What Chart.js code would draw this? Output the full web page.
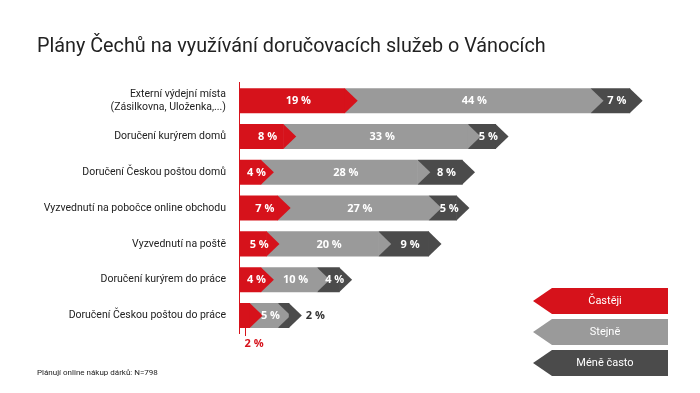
<!DOCTYPE html>
<html>
<head>
<meta charset="utf-8">
<script src="https://cdn.jsdelivr.net/npm/chart.js@4"></script>
<style>
  html, body { margin: 0; padding: 0; background: #fff; }
  #wrap { width: 700px; height: 393px; }
</style>
</head>
<body>
<div id="wrap"><canvas id="graf"></canvas></div>
<script>
var kategorie = [
    ["Externí výdejní místa", "(Zásilkovna, Uloženka,...)"],
    "Doručení kurýrem domů",
    "Doručení Českou poštou domů",
    "Vyzvednutí na pobočce online obchodu",
    "Vyzvednutí na poště",
    "Doručení kurýrem do práce",
    "Doručení Českou poštou do práce"
];
var nazvyRad = ["Častěji", "Stejně", "Méně často"];
var casteji = [19, 8, 4, 7, 5, 4, 2];
var stejne = [44, 33, 28, 27, 20, 10, 5];
var meneCasto = [7, 5, 8, 5, 9, 4, 2];

var CERVENA = "#d6121b";
var SEDA = "#9a9a9a";
var TMAVA = "#4b4b4b";
var barvy = [CERVENA, SEDA, TMAVA];

// hroty sipek + popisky
var sipky = {
    id: "sipky",
    afterDatasetsDraw: function (chart) {
        var ctx = chart.ctx;
        ctx.save();
        chart.data.datasets.forEach(function (ds, i) {
            chart.getDatasetMeta(i).data.forEach(function (bar) {
                var p = bar.getProps(["x", "y", "base", "height"], true);
                var h = p.height;
                ctx.fillStyle = barvy[i];
                ctx.beginPath();
                ctx.moveTo(p.x - 0.5, p.y - h / 2);
                ctx.lineTo(p.x + h / 2, p.y);
                ctx.lineTo(p.x - 0.5, p.y + h / 2);
                ctx.closePath();
                ctx.fill();
            });
        });
        ctx.font = "bold 11px 'Open Sans'";
        ctx.textBaseline = "middle";
        chart.data.datasets.forEach(function (ds, i) {
            chart.getDatasetMeta(i).data.forEach(function (bar, j) {
                var p = bar.getProps(["x", "y", "base", "height"], true);
                var h = p.height;
                var txt = ds.data[j] + " %";
                var w = p.x - p.base;
                if (w >= 18) {
                    ctx.fillStyle = "#fff";
                    ctx.textAlign = "center";
                    ctx.fillText(txt, (p.base + p.x + h / 2) / 2, p.y + 0.5);
                } else if (i === 0) {
                    var cx = (p.base + p.x) / 2;
                    ctx.strokeStyle = CERVENA;
                    ctx.lineWidth = 1;
                    ctx.beginPath();
                    ctx.moveTo(Math.round(cx) + 0.5, p.y + h / 2);
                    ctx.lineTo(Math.round(cx) + 0.5, p.y + h / 2 + 8);
                    ctx.stroke();
                    ctx.fillStyle = CERVENA;
                    ctx.textAlign = "left";
                    ctx.fillText(txt, cx, p.y + h / 2 + 16);
                } else {
                    ctx.fillStyle = "#333";
                    ctx.textAlign = "left";
                    ctx.fillText(txt, p.x + h / 2 + 4, p.y + 0.5);
                }
            });
        });
        ctx.restore();
    },
    afterDraw: function (chart) {
        var ctx = chart.ctx;
        ctx.save();
        var vpravo = chart.width - 32, vlevo = vpravo - 135, vyska = 26;
        var stredy = [301, 332, 363];
        ctx.font = "11px Roboto";
        ctx.textAlign = "center";
        ctx.textBaseline = "middle";
        nazvyRad.forEach(function (n, i) {
            var yc = stredy[i];
            ctx.fillStyle = barvy[i];
            ctx.beginPath();
            ctx.moveTo(vpravo, yc - vyska / 2);
            ctx.lineTo(vlevo + 19, yc - vyska / 2);
            ctx.lineTo(vlevo, yc);
            ctx.lineTo(vlevo + 19, yc + vyska / 2);
            ctx.lineTo(vpravo, yc + vyska / 2);
            ctx.closePath();
            ctx.fill();
            ctx.fillStyle = "#fff";
            ctx.fillText(n, vlevo + 72, yc + 0.5);
        });
        ctx.restore();
    }
};

var ctx = document.getElementById("graf").getContext("2d");
var graf = new Chart(ctx, {
    type: "bar",
    data: {
        labels: kategorie,
        datasets: [
            { label: nazvyRad[0], data: casteji, backgroundColor: CERVENA },
            { label: nazvyRad[1], data: stejne, backgroundColor: SEDA },
            { label: nazvyRad[2], data: meneCasto, backgroundColor: TMAVA }
        ]
    },
    options: {
        indexAxis: "y",
        responsive: true,
        maintainAspectRatio: false,
        animation: false,
        layout: { padding: { left: 37, right: 14, top: 35, bottom: 15 } },
        datasets: {
            bar: { barPercentage: 0.7, categoryPercentage: 1, borderWidth: 0, borderSkipped: false }
        },
        scales: {
            x: { stacked: true, min: 0, max: 80, display: false },
            y: {
                stacked: true,
                grid: { display: false, drawTicks: false },
                border: { color: CERVENA, width: 1 },
                ticks: { color: "#222", font: { family: "Roboto", size: 10.5 }, padding: 13 },
                afterFit: function (axis) { axis.width = 202; }
            }
        },
        plugins: {
            legend: { display: false },
            tooltip: { enabled: false },
            title: {
                display: true,
                text: "Plány Čechů na využívání doručovacích služeb o Vánocích",
                align: "start",
                color: "#222",
                font: { family: "Roboto", size: 19.8, weight: "normal" },
                padding: { top: 0, bottom: 24 }
            },
            subtitle: {
                display: true,
                position: "bottom",
                text: "Plánují online nákup dárků: N=798",
                align: "start",
                color: "#222",
                font: { family: "Roboto", size: 8 },
                padding: { top: 35, bottom: 0 }
            }
        }
    },
    plugins: [sipky]
});
</script>
</body>
</html>
